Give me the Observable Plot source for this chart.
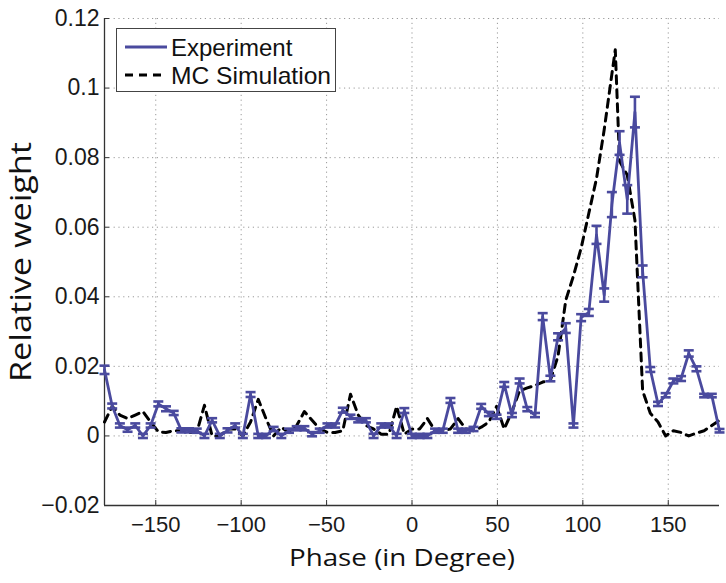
<!DOCTYPE html>
<html><head><meta charset="utf-8">
<script src="https://cdn.jsdelivr.net/npm/d3@7"></script>
<script src="https://cdn.jsdelivr.net/npm/@observablehq/plot@0.6"></script>
<style>
body{margin:0;background:#fff;}
#wrap{width:726px;height:583px;overflow:hidden;}
</style></head><body><div id="wrap"></div>
<script>
// ---- data ----
const expPhase = [-180,-175.5,-171,-166.5,-162,-157.5,-153,-148.5,-144,-139.5,-135,-130.5,-126,-121.5,-117,-112.5,-108,-103.5,-99,-94.5,-90,-85.5,-81,-76.5,-72,-67.5,-63,-58.5,-54,-49.5,-45,-40.5,-36,-31.5,-27,-22.5,-18,-13.5,-9,-4.5,0,4.5,9,13.5,18,22.5,27,31.5,36,40.5,45,49.5,54,58.5,63,67.5,72,76.5,81,85.5,90,94.5,99,103.5,108,112.5,117,121.5,126,130.5,135,139.5,144,148.5,153,157.5,162,166.5,171,175.5,180];
const expWeight = [0.019,0.0086,0.003,0.0018,0.003,0.0,0.003,0.0092,0.0078,0.0066,0.0016,0.0016,0.0015,0.0,0.0045,0.0,0.0016,0.003,0.0,0.0119,0.0,0.0,0.002,0.0,0.0015,0.0022,0.0022,0.0005,0.0015,0.003,0.003,0.0074,0.0055,0.0045,0.0045,0.0,0.003,0.003,0.0,0.0073,0.0,0.0,0.0,0.0015,0.0015,0.0102,0.0015,0.0015,0.002,0.0085,0.0063,0.0055,0.0148,0.006,0.0158,0.0077,0.006,0.0343,0.0165,0.0285,0.031,0.003,0.034,0.0355,0.0578,0.0405,0.0665,0.0842,0.068,0.0931,0.0473,0.0191,0.0092,0.0117,0.0158,0.0165,0.0237,0.0193,0.0116,0.0116,0.0015];
const expError = [0.0012,0.0007,0.0006,0.0006,0.0006,0.0006,0.0006,0.0007,0.0007,0.0006,0.0006,0.0006,0.0006,0.0006,0.0006,0.0006,0.0006,0.0006,0.0006,0.0007,0.0006,0.0006,0.0006,0.0006,0.0006,0.0006,0.0006,0.0006,0.0006,0.0006,0.0006,0.0007,0.0006,0.0006,0.0006,0.0006,0.0006,0.0006,0.0006,0.0007,0.0006,0.0006,0.0006,0.0006,0.0006,0.0007,0.0006,0.0006,0.0006,0.0007,0.0006,0.0006,0.0007,0.0006,0.0007,0.0006,0.0006,0.001,0.0008,0.001,0.0014,0.0006,0.001,0.001,0.0026,0.0019,0.0036,0.0034,0.0041,0.0044,0.0017,0.0007,0.0006,0.0006,0.0007,0.0007,0.0009,0.0007,0.0005,0.0005,0.0005];

const mcPhase = [-180,-175.5,-171,-166.5,-162,-157.5,-153,-148.5,-144,-139.5,-135,-130.5,-126,-121.5,-117,-112.5,-108,-103.5,-99,-94.5,-90,-85.5,-81,-76.5,-72,-67.5,-63,-58.5,-54,-49.5,-45,-40.5,-36,-31.5,-27,-22.5,-18,-13.5,-9,-4.5,0,4.5,9,13.5,18,22.5,27,31.5,36,40.5,45,49.5,54,58.5,63,67.5,72,76.5,81,85.5,90,94.5,99,103.5,108,112.5,117,119,121.5,126,130.5,135,139.5,144,148.5,153,157.5,162,166.5,171,175.5,180];
const mcWeight = [0.004,0.0085,0.006,0.005,0.006,0.007,0.004,0.0012,0.001,0.0015,0.0015,0.001,0.001,0.0088,0.0,0.0,0.002,0.002,0.0,0.004,0.0105,0.005,0.0,0.0025,0.001,0.003,0.007,0.0045,0.002,0.001,0.001,0.0015,0.012,0.006,0.003,0.002,0.0005,0.0005,0.0085,0.0005,0.002,0.002,0.005,0.0015,0.0015,0.002,0.005,0.002,0.0015,0.0025,0.004,0.0085,0.002,0.007,0.013,0.0138,0.0145,0.0155,0.016,0.023,0.039,0.046,0.054,0.064,0.074,0.088,0.104,0.111,0.079,0.075,0.062,0.013,0.0065,0.004,0.0,0.0015,0.001,0.0,0.0008,0.0015,0.003,0.0045];

const xDomain = [-180, 180];
const yDomain = [-0.02, 0.12];
const xTicks = [-150, -100, -50, 0, 50, 100, 150];
const xTickLabels = ["\u2212150", "\u2212100", "\u221250", "0", "50", "100", "150"];
const yTicks = [-0.02, 0, 0.02, 0.04, 0.06, 0.08, 0.1, 0.12];
const yTickLabels = ["\u22120.02", "0", "0.02", "0.04", "0.06", "0.08", "0.1", "0.12"];
const seriesNames = ["Experiment", "MC Simulation"];
const xLabel = "Phase (in Degree)";
const yLabel = "Relative weight";

// ---- build ----
const expData = expPhase.map((p, i) => ({phase: p, weight: expWeight[i], err: expError[i]}));
const mcData = mcPhase.map((p, i) => ({phase: p, weight: mcWeight[i]}));
const xLab = new Map(xTicks.map((t, i) => [t, xTickLabels[i]]));
const yLab = new Map(yTicks.map((t, i) => [t, yTickLabels[i]]));

const blue = "#4a4a9e";
const axisColor = "#333";
const cap = {draw(ctx, size) { const w = Math.sqrt(size / Math.PI); ctx.moveTo(-w, 0); ctx.lineTo(w, 0); }};

const W = 726, H = 583, mL = 104, mR = 7, mT = 18, mB = 78;

const chart = Plot.plot({
  width: W, height: H,
  marginLeft: mL, marginRight: mR, marginTop: mT, marginBottom: mB,
  x: {domain: xDomain},
  y: {domain: yDomain},
  style: {fontFamily: "'Liberation Sans', Arial, sans-serif", background: "white", color: "#1a1a1a"},
  marks: [
    Plot.gridX(xTicks, {stroke: "#999", strokeOpacity: 1, strokeDasharray: "1.2,3.6"}),
    Plot.gridY(yTicks.filter(t => t > yDomain[0]), {stroke: "#999", strokeOpacity: 1, strokeDasharray: "1.2,3.6"}),
    Plot.ruleX([xDomain[0]], {stroke: axisColor, strokeWidth: 1.3}),
    Plot.ruleY([yDomain[0]], {stroke: axisColor, strokeWidth: 1.3}),
    Plot.tickX(xTicks, {stroke: axisColor, insetTop: H - mT - mB - 5}),
    Plot.tickY(yTicks, {stroke: axisColor, insetRight: W - mL - mR - 5}),
    Plot.axisX({ticks: xTicks, tickSize: 0, tickPadding: 11, fontSize: 22, tickFormat: d => xLab.get(d), label: null}),
    Plot.axisY({ticks: yTicks, tickSize: 0, tickPadding: 5, fontSize: 23, tickFormat: d => yLab.get(d), label: null}),
    Plot.line(mcData, {x: "phase", y: "weight", stroke: "#000", strokeWidth: 3, strokeDasharray: "8,6"}),
    Plot.line(expData, {x: "phase", y: "weight", stroke: blue, strokeWidth: 2.8}),
    Plot.ruleX(expData, {x: "phase", y1: d => d.weight - d.err, y2: d => d.weight + d.err, stroke: blue, strokeWidth: 2.6}),
    Plot.dot(expData, {x: "phase", y: d => d.weight - d.err, symbol: cap, r: 5, stroke: blue, strokeWidth: 2.6, fill: "none"}),
    Plot.dot(expData, {x: "phase", y: d => d.weight + d.err, symbol: cap, r: 5, stroke: blue, strokeWidth: 2.6, fill: "none"})
  ]
});
document.getElementById("wrap").appendChild(chart);

// ---- labels and legend (inside the svg) ----
const svg = d3.select(chart);
svg.append("text").text(xLabel)
  .attr("x", 402).attr("y", 566)
  .attr("text-anchor", "middle")
  .attr("textLength", 226).attr("lengthAdjust", "spacingAndGlyphs")
  .style("font-family", "'Open Sans', sans-serif").style("font-size", "24px").attr("fill", "#111");
svg.append("text").text(yLabel)
  .attr("transform", "translate(31,262) rotate(-90)")
  .attr("text-anchor", "middle")
  .attr("textLength", 240).attr("lengthAdjust", "spacingAndGlyphs")
  .style("font-family", "'Open Sans', sans-serif").style("font-size", "29px").attr("fill", "#111");

const lg = svg.append("g").attr("text-anchor", "start");
lg.append("rect").attr("x", 116.5).attr("y", 28.5).attr("width", 219).attr("height", 63)
  .attr("fill", "#fff").attr("stroke", "#444").attr("stroke-width", 1);
lg.append("line").attr("x1", 125).attr("x2", 167).attr("y1", 47).attr("y2", 47)
  .attr("stroke", blue).attr("stroke-width", 2.8);
lg.append("line").attr("x1", 125).attr("x2", 167).attr("y1", 75).attr("y2", 75)
  .attr("stroke", "#000").attr("stroke-width", 3).attr("stroke-dasharray", "8,6");
lg.append("text").text(seriesNames[0]).attr("x", 171).attr("y", 56).attr("text-anchor", "start")
  .style("font-family", "'Liberation Sans', Arial, sans-serif").style("font-size", "24px").attr("fill", "#111");
lg.append("text").text(seriesNames[1]).attr("x", 171).attr("y", 84).attr("text-anchor", "start")
  .attr("textLength", 160).attr("lengthAdjust", "spacingAndGlyphs")
  .style("font-family", "'Liberation Sans', Arial, sans-serif").style("font-size", "24px").attr("fill", "#111");
</script>
</body></html>
